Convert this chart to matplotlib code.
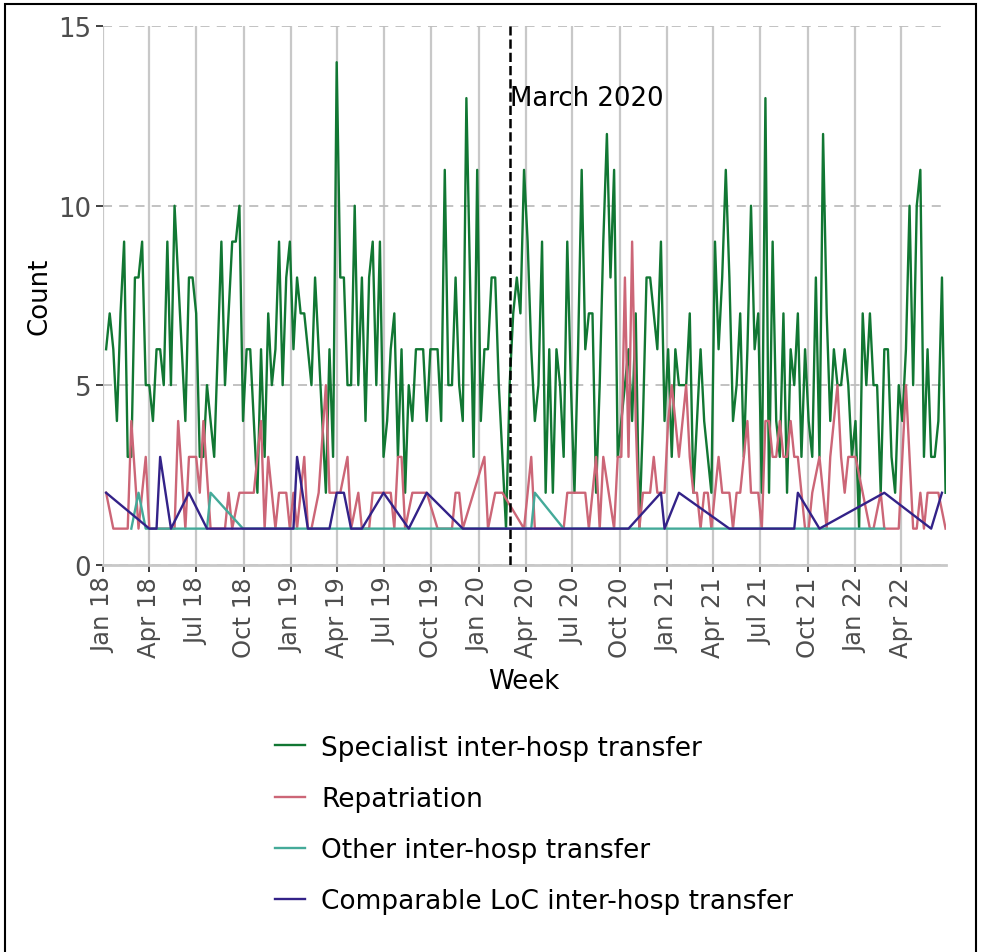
import matplotlib
matplotlib.use("Agg")
import matplotlib.pyplot as plt
import matplotlib.dates as mdates
from matplotlib.patches import Rectangle
import pandas as pd

# weekly counts, week ending Sunday
weeks = pd.date_range("2018-01-07", periods=234, freq="7D")

specialist = [
    6, 7, 6, 4, 7, 9, 3, 3, 8, 8, 9, 5, 5, 4, 6, 6, 5, 9, 5, 10,
    8, 6, 4, 8, 8, 7, 3, 3, 5, 4, 3, 6, 9, 5, 7, 9, 9, 10, 4, 6,
    6, 4, 2, 6, 3, 7, 5, 6, 9, 5, 8, 9, 6, 8, 7, 7, 6, 5, 8, 6,
    4, 2, 6, 3, 14, 8, 8, 5, 5, 10, 5, 8, 4, 8, 9, 5, 9, 3, 4, 6,
    7, 3, 6, 2, 5, 4, 6, 6, 6, 4, 6, 6, 6, 4, 11, 5, 5, 8, 5, 4,
    13, 8, 3, 11, 4, 6, 6, 8, 8, 5, 3, 1, 5, 7, 8, 7, 11, 9, 6, 4,
    5, 9, 2, 6, 2, 6, 5, 3, 9, 5, 2, 6, 11, 6, 7, 7, 2, 5, 9, 12,
    8, 11, 3, 4, 5, 6, 4, 7, 1, 4, 8, 8, 7, 6, 9, 4, 6, 3, 6, 5,
    5, 5, 7, 2, 4, 6, 4, 3, 2, 9, 6, 8, 11, 8, 4, 5, 7, 3, 6, 10,
    6, 7, 2, 13, 2, 9, 4, 3, 7, 2, 6, 5, 7, 3, 6, 4, 3, 8, 3, 12,
    7, 4, 6, 5, 5, 6, 5, 3, 4, 1, 7, 5, 7, 5, 5, 2, 6, 6, 3, 2,
    5, 4, 6, 10, 5, 10, 11, 3, 6, 3, 3, 4, 8, 2,
]

# the other groups only have rows for weeks with at least one transfer
repat_week = [
    0, 2, 6, 7, 9, 11, 12, 19, 20, 22, 23, 25, 26, 27, 29, 33, 34, 35, 37, 39,
    40, 41, 43, 44, 45, 47, 48, 50, 51, 52, 53, 55, 56, 57, 59, 61, 62, 64, 65, 67,
    68, 70, 71, 73, 74, 77, 79, 80, 81, 82, 83, 85, 88, 89, 92, 96, 97, 98, 99, 102,
    105, 106, 108, 110, 116, 118, 119, 127, 128, 133, 134, 136, 137, 138, 141, 142, 143, 144, 145, 146,
    147, 148, 149, 151, 152, 153, 155, 156, 157, 158, 159, 160, 161, 162, 163, 164, 165, 166, 167, 168,
    169, 170, 171, 172, 173, 174, 175, 176, 177, 178, 179, 180, 181, 182, 183, 184, 185, 186, 187, 188,
    189, 190, 191, 192, 193, 194, 195, 196, 198, 199, 200, 201, 203, 204, 205, 206, 208, 210, 212, 213,
    215, 216, 220, 222, 224, 225, 226, 227, 228, 231, 233,
]
repat_count = [
    2, 1, 1, 4, 1, 3, 1, 1, 4, 1, 3, 3, 2, 4, 1, 1, 2, 1, 2, 2,
    2, 2, 4, 1, 3, 1, 2, 2, 1, 2, 1, 3, 1, 1, 2, 5, 2, 2, 2, 3,
    1, 2, 1, 1, 2, 2, 2, 1, 3, 3, 1, 2, 2, 2, 1, 1, 2, 2, 1, 2,
    3, 1, 2, 2, 1, 3, 1, 1, 2, 2, 1, 3, 1, 3, 1, 3, 3, 8, 3, 9,
    4, 1, 2, 2, 3, 2, 2, 4, 5, 4, 3, 4, 5, 3, 2, 2, 1, 2, 2, 1,
    2, 3, 2, 2, 2, 1, 2, 2, 3, 4, 2, 2, 2, 1, 4, 4, 3, 3, 4, 3,
    3, 4, 3, 3, 2, 1, 1, 2, 3, 2, 1, 3, 5, 3, 2, 3, 3, 2, 1, 1,
    2, 1, 1, 5, 1, 1, 2, 1, 2, 2, 1,
]

other_week = [7, 9, 11, 28, 29, 38, 118, 119, 127, 216]
other_count = [1, 2, 1, 1, 2, 1, 1, 2, 1, 1]

comp_week = [0, 12, 14, 15, 18, 23, 28, 52, 53, 56, 62, 64, 66, 68, 71, 77,
             84, 89, 99, 117, 145, 154, 155, 159, 173, 191, 192, 198, 216, 229, 232]
comp_count = [2, 1, 1, 3, 1, 2, 1, 1, 3, 1, 1, 2, 2, 1, 1, 2,
              1, 2, 1, 1, 1, 2, 1, 2, 1, 1, 2, 1, 2, 1, 2]

series = [
    ("Specialist inter-hosp transfer", weeks, specialist, "#117733"),
    ("Repatriation", weeks[repat_week], repat_count, "#CC6677"),
    ("Other inter-hosp transfer", weeks[other_week], other_count, "#44AA99"),
    ("Comparable LoC inter-hosp transfer", weeks[comp_week], comp_count, "#332288"),
]

fs = 18.7
plt.rcParams["font.family"] = "DejaVu Sans"

fig = plt.figure(figsize=(9.82, 9.53), dpi=100)
ax = fig.add_axes([0.1049, 0.4066, 0.858, 0.5647])

for label, x, y, col in series:
    ax.plot(x, y, color=col, lw=1.7, label=label)

lockdown = pd.Timestamp("2020-03-01")
ax.axvline(lockdown, color="black", ls="--", lw=1.8, zorder=3)
ax.text(lockdown, 13, "March 2020", fontsize=fs, va="center", ha="left")

ax.set_xlim(pd.Timestamp("2018-01-01"), weeks[-1])
ax.set_ylim(0, 15)
ax.set_yticks([0, 5, 10, 15])
ax.xaxis.set_major_locator(mdates.MonthLocator(bymonth=[1, 4, 7, 10]))
ax.xaxis.set_major_formatter(mdates.DateFormatter("%b %y"))

ax.grid(axis="x", color="#c8c8c8", lw=1.6, ls="-")
ax.grid(axis="y", color="#bdbdbd", lw=1.3, ls=(0, (5, 4)))
ax.set_axisbelow(True)
for side in ["left", "top", "right"]:
    ax.spines[side].set_visible(False)
ax.spines["bottom"].set_color("#c8c8c8")
ax.spines["bottom"].set_linewidth(2)

ax.tick_params(axis="both", colors="#333333", length=5, width=1.3, labelcolor="#4d4d4d")
ax.tick_params(axis="y", labelsize=fs)
ax.tick_params(axis="x", labelsize=17.5, labelrotation=90)
ax.set_xlabel("Week", fontsize=fs, labelpad=8)
ax.set_ylabel("Count", fontsize=fs)

fig.legend(loc="upper left", bbox_to_anchor=(0.28, 0.228), frameon=False,
           fontsize=19, handlelength=1.15, handletextpad=0.6, labelspacing=0.95,
           borderpad=0, borderaxespad=0)

fig.patches.append(Rectangle((0.0051, -0.1), 0.9888, 1.0948, transform=fig.transFigure,
                             fill=False, ec="black", lw=1.5))

fig.savefig("out.png", dpi=100)
